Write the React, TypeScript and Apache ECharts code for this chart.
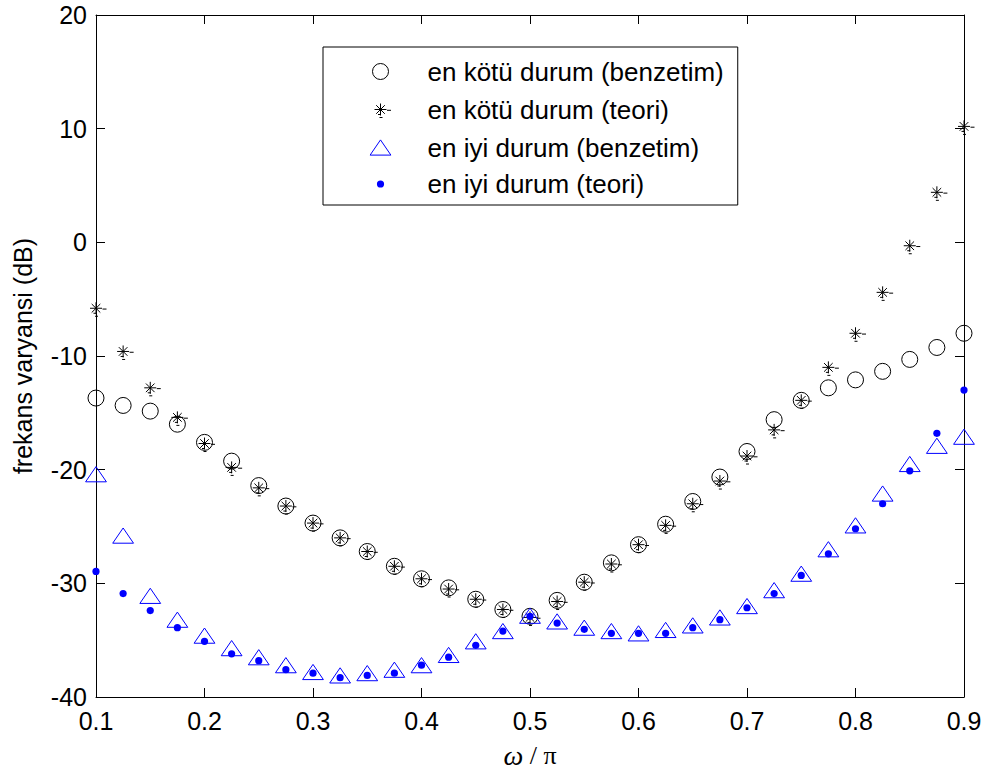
import React, { useEffect, useRef } from "react";
import * as echarts from "echarts";

// normalized frequency ω/π
const omega = [
  0.1, 0.125, 0.15, 0.175, 0.2, 0.225, 0.25, 0.275, 0.3, 0.325, 0.35,
  0.375, 0.4, 0.425, 0.45, 0.475, 0.5, 0.525, 0.55, 0.575, 0.6, 0.625,
  0.65, 0.675, 0.7, 0.725, 0.75, 0.775, 0.8, 0.825, 0.85, 0.875, 0.9,
];

// en kötü durum (benzetim) — circles
const worstSim = [
  -13.7, -14.35, -14.85, -16.0, -17.6, -19.25, -21.4, -23.2, -24.7, -26.0, -27.2,
  -28.5, -29.6, -30.4, -31.4, -32.3, -32.9, -31.5, -29.9, -28.2, -26.6, -24.8,
  -22.8, -20.65, -18.4, -15.6, -13.9, -12.8, -12.1, -11.35, -10.3, -9.25, -8.0,
];

// en kötü durum (teori) — stars
const worstTheory = [
  -5.8, -9.6, -12.8, -15.4, -17.7, -19.8, -21.6, -23.2, -24.7, -26.0, -27.2,
  -28.5, -29.6, -30.5, -31.4, -32.3, -33.0, -31.6, -29.9, -28.3, -26.6, -24.9,
  -23.0, -21.0, -18.8, -16.5, -13.9, -11.0, -8.0, -4.4, -0.3, 4.4, 10.2,
];

// en iyi durum (benzetim) — triangles
const bestSim = [
  -20.4, -25.8, -31.1, -33.2, -34.6, -35.7, -36.5, -37.2, -37.8, -38.1, -37.9,
  -37.6, -37.2, -36.3, -35.1, -34.2, -32.85, -33.35, -33.9, -34.2, -34.4, -34.1,
  -33.7, -33.0, -32.0, -30.6, -29.15, -27.0, -24.9, -22.1, -19.5, -17.9, -17.1,
];

// en iyi durum (teori) — dots
const bestTheory = [
  -28.95, -30.9, -32.4, -33.9, -35.1, -36.2, -36.8, -37.6, -37.9, -38.3, -38.1,
  -37.9, -37.2, -36.5, -35.45, -34.2, -32.9, -33.5, -34.05, -34.4, -34.4, -34.4,
  -33.9, -33.2, -32.15, -30.9, -29.3, -27.4, -25.2, -23.0, -20.1, -16.8, -13.0,
];

const seriesNames = [
  "en kötü durum (benzetim)",
  "en kötü durum (teori)",
  "en iyi durum (benzetim)",
  "en iyi durum (teori)",
];

const xTicks = { min: 0.1, max: 0.9, interval: 0.1 };
const yTicks = { min: -40, max: 20, interval: 10 };

// symbol paths in a common 24x24 box (phantom corners keep the box symmetric)
const BOX = "M-12,-12L-12,-12M12,12L12,12";
const circlePath = "path://" + BOX + "M8,0A8,8 0 1,1 -8,0A8,8 0 1,1 8,0Z";
const starPath =
  "path://" + BOX +
  "M0,-6L0,6M-6,0L6,0M-4.3,-4.3L4.3,4.3M-4.3,4.3L4.3,-4.3M6.5,0.8L10.5,0.8M-2.5,5L0.5,5M-1,8L2,8";
const trianglePath = "path://" + BOX + "M0,-7.6L10.4,7.6L-10.4,7.6Z";
const dotPath = "path://" + BOX + "M3.6,0A3.6,3.6 0 1,1 -3.6,0A3.6,3.6 0 1,1 3.6,0Z";

const FONT = "'Liberation Sans', Arial, Helvetica, sans-serif";
const SERIF = "'Liberation Serif', 'Times New Roman', serif";
const BLUE = "#0000ff";

export default function App() {
  const ref = useRef<HTMLDivElement>(null);

  useEffect(() => {
    if (!ref.current) return;
    const chart = echarts.init(ref.current, null, { renderer: "svg" });

    const axisLine = { show: true, onZero: false, lineStyle: { color: "#000", width: 1 } };
    const axisTick = { show: true, inside: true, length: 9, lineStyle: { color: "#000", width: 1 } };

    const styles = [
      { color: "none", borderColor: "#000", borderWidth: 1 },
      { color: "none", borderColor: "#000", borderWidth: 1 },
      { color: "none", borderColor: BLUE, borderWidth: 1 },
      { color: BLUE, borderColor: BLUE, borderWidth: 0 },
    ];
    const icons = [circlePath, starPath, trianglePath, dotPath];
    const values = [worstSim, worstTheory, bestSim, bestTheory];

    chart.setOption({
      animation: false,
      backgroundColor: "#fff",
      grid: {
        left: 96,
        right: 26,
        top: 15,
        bottom: 75,
        containLabel: false,
        outerBoundsMode: "none",
      },
      xAxis: [
        {
          type: "value",
          position: "bottom",
          ...xTicks,
          axisLine,
          axisTick,
          splitLine: { show: false },
          axisLabel: {
            color: "#000",
            fontFamily: FONT,
            fontSize: 25,
            margin: 11,
            formatter: (v: number) => v.toFixed(1),
          },
          name: "{w|ω} / π",
          nameLocation: "middle",
          nameGap: 44,
          nameTextStyle: {
            color: "#000",
            fontFamily: SERIF,
            fontSize: 26,
            rich: {
              w: { fontFamily: SERIF, fontSize: 28, fontStyle: "italic", color: "#000" },
            },
          },
        },
        {
          type: "value",
          position: "top",
          ...xTicks,
          axisLine,
          axisTick,
          splitLine: { show: false },
          axisLabel: { show: false },
        },
      ],
      yAxis: [
        {
          type: "value",
          position: "left",
          ...yTicks,
          axisLine,
          axisTick,
          splitLine: { show: false },
          axisLabel: { color: "#000", fontFamily: FONT, fontSize: 25, margin: 9 },
          name: "frekans varyansi (dB)",
          nameLocation: "middle",
          nameGap: 61,
          nameTextStyle: { color: "#000", fontFamily: FONT, fontSize: 25 },
        },
        {
          type: "value",
          position: "right",
          ...yTicks,
          axisLine,
          axisTick,
          splitLine: { show: false },
          axisLabel: { show: false },
        },
      ],
      legend: {
        orient: "vertical",
        left: 323,
        top: 47,
        padding: [10, 14, 8, 43],
        itemWidth: 84,
        itemHeight: 24,
        itemGap: 9,
        backgroundColor: "#fff",
        borderColor: "#000",
        borderWidth: 1,
        borderRadius: 0,
        selectedMode: false,
        symbolKeepAspect: true,
        textStyle: { color: "#000", fontFamily: FONT, fontSize: 26 },
        data: seriesNames.map((name, i) => ({ name, icon: icons[i], itemStyle: styles[i] })),
      },
      series: seriesNames.map((name, i) => ({
        name,
        type: "scatter",
        xAxisIndex: 0,
        yAxisIndex: 0,
        symbol: icons[i],
        symbolSize: 24,
        itemStyle: { ...styles[i], opacity: 1 },
        emphasis: { disabled: true },
        clip: false,
        z: 2 + i,
        data: omega.map((x, k) => [x, values[i][k]]),
      })),
    });

    return () => chart.dispose();
  }, []);

  return (
    <div
      ref={ref}
      style={{ position: "absolute", left: 0, top: 0, width: 990, height: 772, background: "#fff" }}
    />
  );
}
